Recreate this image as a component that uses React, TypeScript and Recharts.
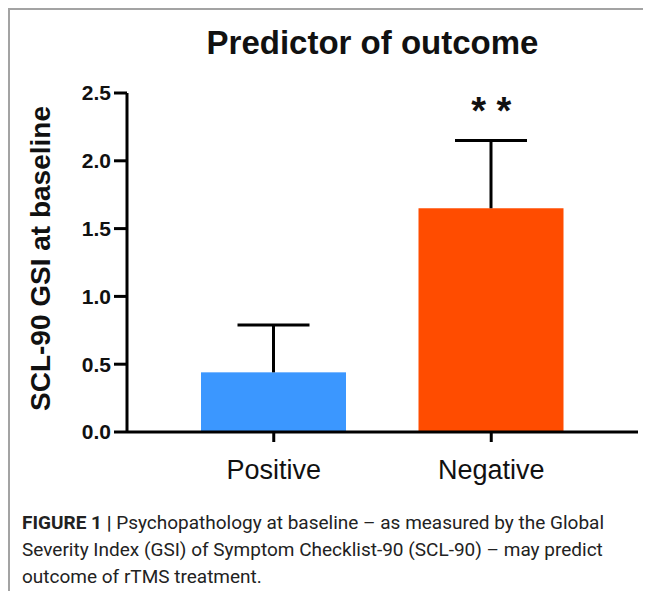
import { BarChart, Bar, XAxis, YAxis, Cell, ReferenceDot } from "recharts";

const groups = ["Positive", "Negative"];
const means = [0.44, 1.65];
const sds = [0.35, 0.5];
const barColors = ["#3b97ff", "#ff4c00"];
const yTicks = [0, 0.5, 1.0, 1.5, 2.0, 2.5];
const sigLabel = "* *";
const sigGroup = "Negative";
const sigY = 2.37;

const data = groups.map((g, i) => ({ group: g, mean: means[i], sd: sds[i] }));

// bar with an upward-only error whisker, scaled from the bar's own pixel height
function BarWithError(props: any) {
  const { x, y, width, height, fill, payload } = props;
  const perUnit = payload.mean ? height / payload.mean : 0;
  const top = y - payload.sd * perUnit;
  const cx = x + width / 2;
  return (
    <g>
      <rect x={x} y={y} width={width} height={height} fill={fill} />
      <line x1={cx} x2={cx} y1={y} y2={top} stroke="#000" strokeWidth={3} />
      <line x1={cx - 36} x2={cx + 36} y1={top} y2={top} stroke="#000" strokeWidth={3} />
    </g>
  );
}

export default function App() {
  return (
    <div
      style={{
        position: "relative",
        width: 641,
        height: 581,
        borderTop: "2px solid #a3a3a3",
        borderLeft: "2px solid #a3a3a3",
        fontFamily: "'Liberation Sans', Arial, sans-serif",
        background: "#fff",
      }}
    >
      <div
        style={{
          position: "absolute",
          top: 14,
          left: 0,
          width: 725,
          textAlign: "center",
          fontSize: 33,
          fontWeight: 700,
          color: "#111",
        }}
      >
        Predictor of outcome
      </div>
      <BarChart
        width={641}
        height={490}
        data={data}
        margin={{ top: 83, right: 13, left: 0, bottom: 8 }}
      >
        <XAxis
          dataKey="group"
          height={60}
          padding={{ left: 38, right: 38 }}
          axisLine={{ stroke: "#000", strokeWidth: 3 }}
          tickLine={{ stroke: "#000", strokeWidth: 3 }}
          tickSize={10}
          tickMargin={18}
          tick={{ fontSize: 27, fill: "#111" }}
        />
        <YAxis
          width={117}
          domain={[0, 2.5]}
          ticks={yTicks}
          tickFormatter={(v: number) => v.toFixed(1)}
          axisLine={{ stroke: "#000", strokeWidth: 3 }}
          tickLine={{ stroke: "#000", strokeWidth: 3 }}
          tickSize={13}
          tickMargin={3}
          tick={{ fontSize: 21, fontWeight: 700, fill: "#111" }}
          label={{
            value: "SCL-90 GSI at baseline",
            angle: -90,
            position: "insideLeft",
            offset: 30,
            dy: -4,
            style: { textAnchor: "middle", fontSize: 28, fontWeight: 700, fill: "#111" },
          }}
        />
        <Bar dataKey="mean" barSize={145} isAnimationActive={false} shape={<BarWithError />}>
          {data.map((d, i) => (
            <Cell key={d.group} fill={barColors[i]} />
          ))}
        </Bar>
        <ReferenceDot
          x={sigGroup}
          y={sigY}
          r={0}
          fill="none"
          stroke="none"
          label={{ value: sigLabel, position: "center", fontSize: 38, fontWeight: 700, fill: "#111" }}
        />
      </BarChart>
      <div
        style={{
          position: "absolute",
          left: 12,
          top: 499,
          fontFamily: "Roboto, 'Liberation Sans', sans-serif",
          fontSize: 19,
          lineHeight: "27px",
          color: "#222",
          whiteSpace: "nowrap",
        }}
      >
        <div>
          <b>FIGURE 1 |</b> Psychopathology at baseline – as measured by the Global
        </div>
        <div>Severity Index (GSI) of Symptom Checklist-90 (SCL-90) – may predict</div>
        <div>outcome of rTMS treatment.</div>
      </div>
    </div>
  );
}
